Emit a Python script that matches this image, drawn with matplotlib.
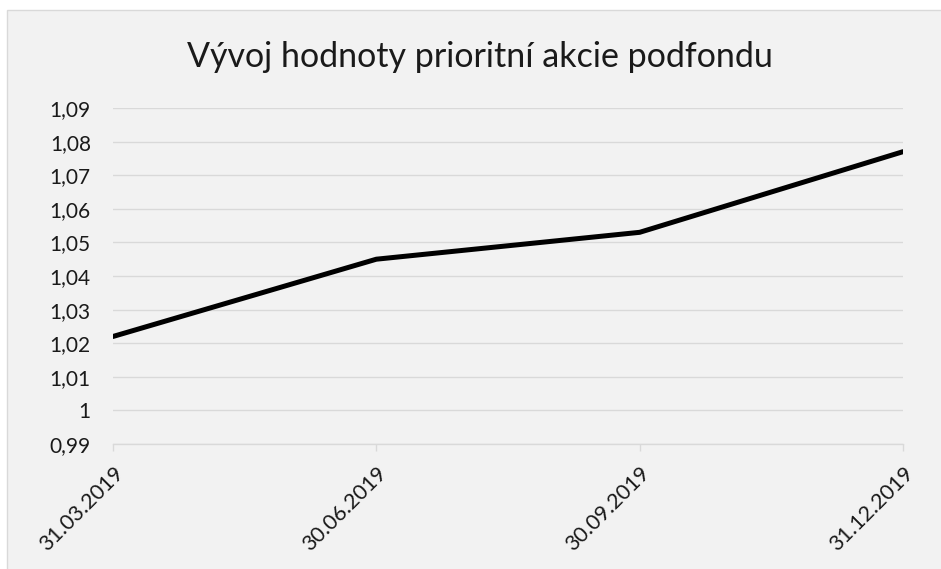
import matplotlib.pyplot as plt
from matplotlib.patches import Rectangle
from matplotlib.ticker import FuncFormatter

# data
dates = ['31.03.2019', '30.06.2019', '30.09.2019', '31.12.2019']
values = [1.022, 1.045, 1.053, 1.077]
yticks = [0.99, 1.00, 1.01, 1.02, 1.03, 1.04, 1.05, 1.06, 1.07, 1.08, 1.09]

plt.rcParams['font.family'] = ['Lato', 'DejaVu Sans']

W, H = 941, 569
fig = plt.figure(figsize=(W/100, H/100), dpi=100, facecolor='white')

# chart area background with border
bg = Rectangle((7/W, -0.1), 1.2, 1.1 - 10/H, transform=fig.transFigure,
               facecolor='#f2f2f2', edgecolor='#d9d9d9', lw=1, zorder=-10)
fig.patches.append(bg)

ax = fig.add_axes([113/W, 1 - 444/H, (903 - 113)/W, (444 - 108)/H])
ax.set_facecolor('none')

x = list(range(len(dates)))
ax.plot(x, values, color='black', lw=3.6, solid_capstyle='round',
        solid_joinstyle='round', zorder=3)

ax.set_xlim(0, len(dates) - 1)
ax.set_ylim(0.99, 1.09)
ax.set_yticks(yticks)

def comma(v, pos):
    s = ('%.2f' % v).rstrip('0').rstrip('.')
    return s.replace('.', ',')

ax.yaxis.set_major_formatter(FuncFormatter(comma))
ax.grid(axis='y', color='#d9d9d9', lw=1)
ax.set_axisbelow(True)

for s in ['top', 'right', 'left']:
    ax.spines[s].set_visible(False)
ax.spines['bottom'].set_color('#d9d9d9')
ax.spines['bottom'].set_linewidth(1)

ax.set_xticks(x)
ax.set_xticklabels(dates, rotation=45, ha='right', rotation_mode='anchor')
ax.tick_params(axis='x', length=5, color='#d9d9d9', width=1, pad=9,
               labelsize=15.5, labelcolor='#1a1a1a')
ax.tick_params(axis='y', length=0, pad=16, labelsize=15, labelcolor='#1a1a1a')

fig.text(480/W, 1 - 57/H, 'Vývoj hodnoty prioritní akcie podfondu',
         ha='center', va='center', fontsize=24.5, color='#1a1a1a')

plt.savefig('out.png', dpi=100)
plt.close()
